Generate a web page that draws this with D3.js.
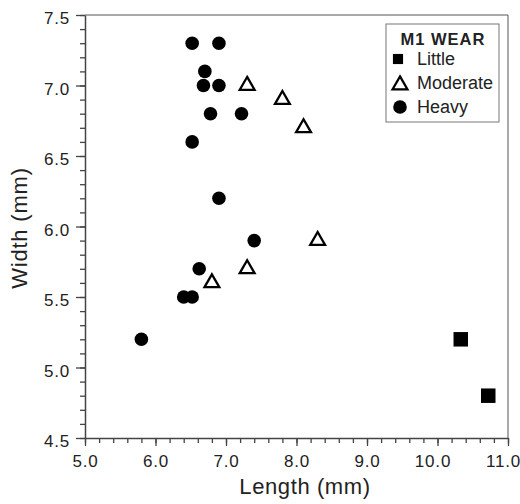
<!DOCTYPE html>
<html>
  <head>
    <meta charset="utf-8">
    <title>M1 wear scatter</title>
    <script src="https://cdnjs.cloudflare.com/ajax/libs/d3/7.8.5/d3.min.js"></script>
    <style>
      body { margin: 0; background: #fff; }
      text { font-family: "Liberation Sans", Arial, sans-serif; fill: #222; }
    </style>
  </head>
  <body>

    <script>
      // data
      var littleLength   = [10.33, 10.72];
      var littleWidth    = [5.2, 4.8];
      var moderateLength = [7.3, 7.8, 8.1, 8.3, 7.3, 6.8];
      var moderateWidth  = [7.0, 6.9, 6.7, 5.9, 5.7, 5.6];
      var heavyLength    = [6.52, 6.9, 6.7, 6.68, 6.9, 6.78, 7.22, 6.52, 6.9, 7.4, 6.62, 6.4, 6.52, 5.8];
      var heavyWidth     = [7.3, 7.3, 7.1, 7.0, 7.0, 6.8, 6.8, 6.6, 6.2, 5.9, 5.7, 5.5, 5.5, 5.2];
      var xTicks = [5, 6, 7, 8, 9, 10, 11];
      var yTicks = [4.5, 5.0, 5.5, 6.0, 6.5, 7.0, 7.5];
      var legendTitle = "M1 WEAR";
      var legendLabels = ["Little", "Moderate", "Heavy"];

      var width = 520, height = 504;
      var margin = {left: 85, right: 12, top: 15, bottom: 66};

      var svg = d3.select("body").append("svg")
        .attr("width", width)
        .attr("height", height);

      var x = d3.scaleLinear().domain([5, 11]).range([margin.left, width - margin.right]);
      var y = d3.scaleLinear().domain([4.5, 7.5]).range([height - margin.bottom, margin.top]);

      // frame (top + right)
      svg.append("path")
        .attr("d", "M" + x(5) + "," + y(7.5) + "H" + x(11) + "V" + y(4.5))
        .attr("fill", "none")
        .attr("stroke", "#555")
        .attr("stroke-width", 1);

      // minor ticks
      var xMinor = d3.range(5, 11.001, 0.2);
      var yMinor = d3.range(4.5, 7.5001, 0.1);

      svg.append("g")
        .attr("transform", "translate(0," + y(4.5) + ")")
        .call(d3.axisBottom(x).tickValues(xMinor).tickSize(5).tickFormat(""))
        .call(function (g) { g.select(".domain").remove(); });

      svg.append("g")
        .attr("transform", "translate(" + x(5) + ",0)")
        .call(d3.axisLeft(y).tickValues(yMinor).tickSize(5).tickFormat(""))
        .call(function (g) { g.select(".domain").remove(); });

      // major axes
      var xAxis = svg.append("g")
        .attr("transform", "translate(0," + y(4.5) + ")")
        .call(d3.axisBottom(x).tickValues(xTicks).tickSize(8).tickSizeOuter(0).tickPadding(9).tickFormat(d3.format(".1f")));

      var yAxis = svg.append("g")
        .attr("transform", "translate(" + x(5) + ",0)")
        .call(d3.axisLeft(y).tickValues(yTicks).tickSize(9).tickSizeOuter(0).tickPadding(6).tickFormat(d3.format(".1f")));

      svg.selectAll(".tick line").attr("stroke", "#444").attr("stroke-width", 1.3);
      svg.selectAll(".domain").attr("stroke", "#444").attr("stroke-width", 1.5);
      svg.selectAll(".tick text")
        .style("font-size", "17px")
        .style("letter-spacing", "0.8px")
        .attr("fill", "#222");
      yAxis.selectAll(".tick text").attr("dy", "0.5em");
      xAxis.selectAll(".tick text").attr("dx", function (d) { return d >= 10 ? -5 : 0; });

      // axis titles
      svg.append("text")
        .attr("x", 305)
        .attr("y", 494)
        .attr("text-anchor", "middle")
        .style("font-size", "22px")
        .style("letter-spacing", "0.6px")
        .text("Length (mm)");

      svg.append("text")
        .attr("transform", "translate(27,228) rotate(-90)")
        .attr("text-anchor", "middle")
        .style("font-size", "22px")
        .style("letter-spacing", "0.8px")
        .text("Width (mm)");

      // symbols
      var circleSym = d3.symbol().type(d3.symbolCircle).size(145);
      var squareSym = d3.symbol().type(d3.symbolSquare).size(210);
      var triSym    = d3.symbol().type(d3.symbolTriangle).size(95);

      var heavy = heavyLength.map(function (d, i) { return {x: d, y: heavyWidth[i]}; });
      var moderate = moderateLength.map(function (d, i) { return {x: d, y: moderateWidth[i]}; });
      var little = littleLength.map(function (d, i) { return {x: d, y: littleWidth[i]}; });

      svg.selectAll(".heavy").data(heavy).enter().append("path")
        .attr("class", "heavy")
        .attr("d", circleSym)
        .attr("transform", function (d) { return "translate(" + x(d.x) + "," + y(d.y) + ")"; })
        .attr("fill", "#000");

      svg.selectAll(".little").data(little).enter().append("path")
        .attr("class", "little")
        .attr("d", squareSym)
        .attr("transform", function (d) { return "translate(" + x(d.x) + "," + y(d.y) + ")"; })
        .attr("fill", "#000");

      svg.selectAll(".moderate").data(moderate).enter().append("path")
        .attr("class", "moderate")
        .attr("d", triSym)
        .attr("transform", function (d) { return "translate(" + x(d.x) + "," + y(d.y) + ")"; })
        .attr("fill", "#fff")
        .attr("stroke", "#000")
        .attr("stroke-width", 2.3);

      // legend
      var lg = svg.append("g").attr("transform", "translate(386,24)");
      lg.append("rect")
        .attr("width", 113).attr("height", 98)
        .attr("fill", "#fff")
        .attr("stroke", "#777")
        .attr("stroke-width", 1);
      lg.append("text")
        .attr("x", 57).attr("y", 21)
        .attr("text-anchor", "middle")
        .style("font-size", "16.5px")
        .style("font-weight", "bold")
        .style("letter-spacing", "1px")
        .text(legendTitle);

      var legSyms = [
        {sym: squareSym, fill: "#000", stroke: "none", cx: 12, sc: 0.7},
        {sym: triSym, fill: "#fff", stroke: "#000", cx: 14, sc: 1},
        {sym: circleSym, fill: "#000", stroke: "none", cx: 14, sc: 1}
      ];

      legendLabels.forEach(function (lab, i) {
        var yy = 35 + i * 24;
        lg.append("path")
          .attr("d", legSyms[i].sym)
          .attr("transform", "translate(" + legSyms[i].cx + "," + (yy + (i === 1 ? 2 : 0)) + ") scale(" + legSyms[i].sc + ")")
          .attr("fill", legSyms[i].fill)
          .attr("stroke", legSyms[i].stroke)
          .attr("stroke-width", 2.3);
        lg.append("text")
          .attr("x", 31).attr("y", yy + 6)
          .style("font-size", "18px")
          .text(lab);
      });
    </script>

  </body>
</html>
